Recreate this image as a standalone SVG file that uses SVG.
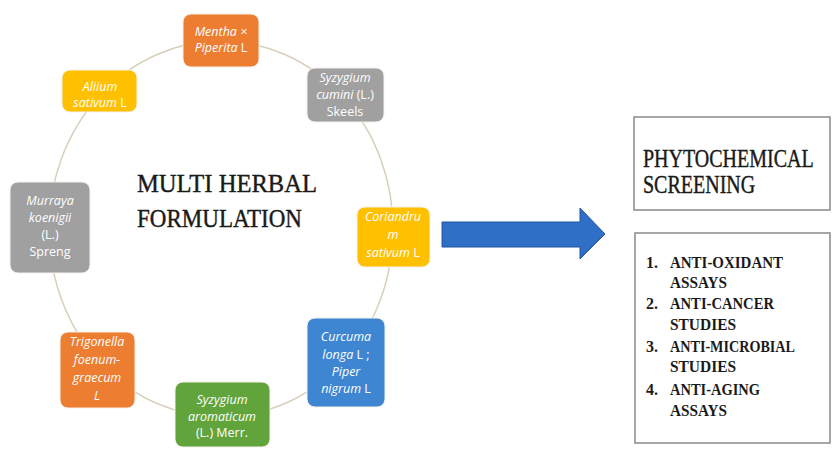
<svg xmlns="http://www.w3.org/2000/svg" width="832" height="452" viewBox="0 0 832 452">
<style>
.n{stroke:#f4f1ea;stroke-width:1}
.t{font-family:"Open Sans","Noto Sans",sans-serif;font-size:12.5px;font-style:italic;fill:#fff;text-anchor:middle}
.r{font-style:normal}
.h{font-family:"Liberation Serif","DejaVu Serif",serif;font-size:25px;fill:#1a1a1a;stroke:#1a1a1a;stroke-width:0.4}
.l{font-family:"Liberation Serif","DejaVu Serif",serif;font-size:16px;font-weight:bold;fill:#1a1a1a}
.box{fill:#fff;stroke:#8a8a8a;stroke-width:1.5}
</style>
<rect width="832" height="452" fill="#fff"/>
<g id="connectors">
<ellipse cx="221" cy="229" rx="172" ry="188" fill="none" stroke="#d8cfbd" stroke-width="1.5"/>
<polygon points="442,222 580,222 580,208 605,234 580,259 580,247 442,247" fill="#2f6fc6" stroke="#22559f" stroke-width="1"/>
</g>
<g id="center-label">
<text class="h" x="137" y="192" textLength="180" lengthAdjust="spacingAndGlyphs">MULTI HERBAL</text>
<text class="h" x="137" y="227" textLength="165" lengthAdjust="spacingAndGlyphs">FORMULATION</text>
</g>
<g id="mentha">
<rect class="n" x="183" y="14" width="76" height="53" rx="8" fill="#ed7d31"/>
<text class="t" x="221" y="36">Mentha ×</text>
<text class="t" x="221" y="52">Piperita <tspan class="r">L</tspan></text>
</g>
<g id="syzygium-cumini">
<rect class="n" x="307" y="68" width="77" height="54" rx="8" fill="#a0a0a0"/>
<text class="t" x="345" y="82">Syzygium</text>
<text class="t" x="345" y="99">cumini <tspan class="r">(L.)</tspan></text>
<text class="t r" x="345" y="116">Skeels</text>
</g>
<g id="allium">
<rect class="n" x="62" y="70" width="75" height="42" rx="8" fill="#ffc000"/>
<text class="t" x="100" y="91">Aliium</text>
<text class="t" x="100" y="107">sativum <tspan class="r">L</tspan></text>
</g>
<g id="murraya">
<rect class="n" x="10" y="182" width="80" height="91" rx="8" fill="#a0a0a0"/>
<text class="t" x="50" y="205">Murraya</text>
<text class="t" x="50" y="222">koenigii</text>
<text class="t r" x="50" y="239">(L.)</text>
<text class="t r" x="50" y="256">Spreng</text>
</g>
<g id="coriandrum">
<rect class="n" x="357" y="207" width="73" height="60" rx="8" fill="#ffc000"/>
<text class="t" x="393" y="221">Coriandru</text>
<text class="t" x="393" y="239">m</text>
<text class="t" x="393" y="257">sativum <tspan class="r">L</tspan></text>
</g>
<g id="curcuma">
<rect class="n" x="307" y="318" width="78" height="89" rx="8" fill="#3e86d2"/>
<text class="t" x="346" y="341">Curcuma</text>
<text class="t" x="346" y="359">longa <tspan class="r">L ;</tspan></text>
<text class="t" x="346" y="376">Piper</text>
<text class="t" x="346" y="393">nigrum <tspan class="r">L</tspan></text>
</g>
<g id="trigonella">
<rect class="n" x="60" y="332" width="75" height="76" rx="8" fill="#ed7d31"/>
<text class="t" x="97" y="346">Trigonella</text>
<text class="t" x="97" y="364">foenum-</text>
<text class="t" x="97" y="382">graecum</text>
<text class="t" x="97" y="400">L</text>
</g>
<g id="syzygium-aromaticum">
<rect class="n" x="175" y="382" width="95" height="65" rx="8" fill="#62a43c"/>
<text class="t" x="222" y="404">Syzygium</text>
<text class="t" x="222" y="421">aromaticum</text>
<text class="t r" x="222" y="437">(L.) Merr.</text>
</g>
<g id="phytochemical">
<rect class="box" x="634" y="117" width="196" height="93"/>
<text class="h" transform="translate(643,167) scale(0.8,1)">PHYTOCHEMICAL</text>
<text class="h" transform="translate(643,193) scale(0.8,1)">SCREENING</text>
</g>
<g id="studies">
<rect class="box" x="635" y="233" width="195" height="210"/>
<text class="l" x="646" y="268">1.</text><text class="l" x="670" y="268" textLength="113" lengthAdjust="spacingAndGlyphs">ANTI-OXIDANT</text>
<text class="l" x="670" y="288" textLength="57" lengthAdjust="spacingAndGlyphs">ASSAYS</text>
<text class="l" x="646" y="309">2.</text><text class="l" x="670" y="309" textLength="104" lengthAdjust="spacingAndGlyphs">ANTI-CANCER</text>
<text class="l" x="670" y="330" textLength="66" lengthAdjust="spacingAndGlyphs">STUDIES</text>
<text class="l" x="646" y="352">3.</text><text class="l" x="670" y="352" textLength="125" lengthAdjust="spacingAndGlyphs">ANTI-MICROBIAL</text>
<text class="l" x="670" y="372" textLength="66" lengthAdjust="spacingAndGlyphs">STUDIES</text>
<text class="l" x="646" y="395">4.</text><text class="l" x="670" y="395" textLength="90" lengthAdjust="spacingAndGlyphs">ANTI-AGING</text>
<text class="l" x="670" y="416" textLength="57" lengthAdjust="spacingAndGlyphs">ASSAYS</text>
</g>
</svg>
